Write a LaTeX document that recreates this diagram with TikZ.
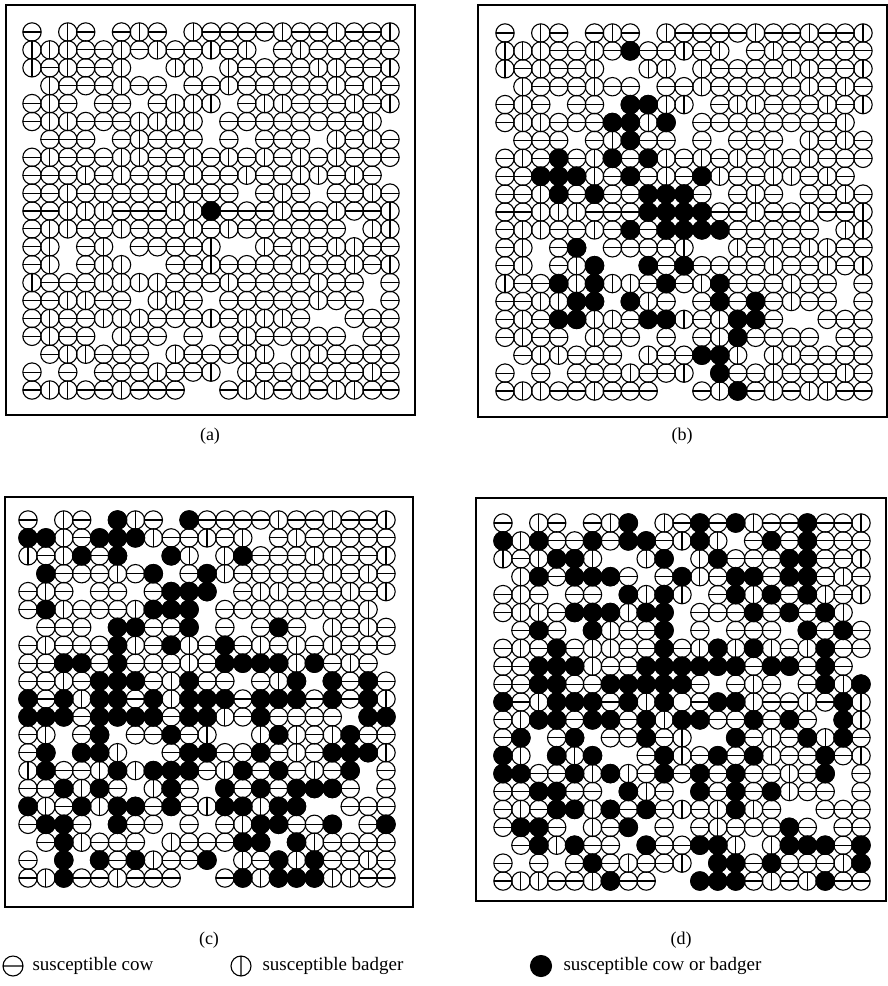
\documentclass[tikz,border=0pt]{standalone}
\usepackage{fontspec}
\setmainfont{Liberation Serif}
\usepackage{xstring}
\tikzset{
  every picture/.style={line width=1.1pt},
  cell/.style={draw=black, line width=1.1pt},
  sick/.style={draw=black, fill=black, line width=1.1pt},
  frame/.style={draw=black, line width=1.3pt},
  caption/.style={font=\fontsize{18}{20}\selectfont, inner sep=0pt},
  key/.style={font=\fontsize{19}{22}\selectfont, anchor=west, inner sep=0pt},
}
% h = cow, v = badger, e = empty site, o = plain circle
\newcommand\herd{hevhehvhevhhhhvhhvhhv,vvvhhvhvhhvhvehvhhhhh,vhvhhveevvevhhhhvvhhv,
  evhhhvhhehhvhhhhhvhvh,hvhehhehvvvehvvhhhvhv,hvvhhhvvvvehhhhhhhhve,ehhhehvhhhehehhhevhvh,
  hvhhhvvhhvhvhvhvhvhhh,hhhvhvhhhvhhvhhvvhvhe,hhvhhhhhvhhhehvhehhvh,hhvvvhhhvvohhhvhhvhhv,
  hvvhhvhhhvhvhhhhhhevv,hvehvehhhhveevhvhvvhh,hvehvveehhvhhhhvhhvhv,vhhhvvvvhhhvhhhhvhheh,
  hhvvhhevvhehhhhhvhheh,hvhhvvvhhhvhvvvheehhh,hvhhevhhehehvhhhhhehh,ehvvhhhevhhhvvevvhhhh,
  hehehhhvhhvevhhvhhhvh,hvvhhvhhheehvvhvhvvhh}
\newcommand\sickcells[3]{\foreach \r/\cols in {#3}{\foreach \c in \cols{
  \path[sick] ({#1+(\c-1)*17.9},{#2+(\r-1)*17.9}) circle[radius=9.2pt];}}}

\begin{document}
\begin{tikzpicture}[x=1pt, y=-1pt]
  \useasboundingbox (0,0) rectangle (888,986);
  % frames
  \draw[frame] (6,5) rectangle (415,415);
  \draw[frame] (478,5) rectangle (887,417);
  \draw[frame] (5,497) rectangle (413,907);
  \draw[frame] (476,498) rectangle (886,901);
  % the herd, same in all four panels
  \foreach \ox/\oy in {32/32, 505/33, 28/520, 503/523} {
    \foreach \row [count=\r] in \herd {
      \foreach \c in {1,...,21} {
        \StrChar{\row}{\c}[\kind]
        \pgfmathsetmacro\cx{\ox+(\c-1)*17.9}
        \pgfmathsetmacro\cy{\oy+(\r-1)*17.9}
        \if\kind e\else
          \draw[cell] (\cx,\cy) circle[radius=9.2pt];
          \if\kind h \draw[cell] (\cx,\cy) +(-9.2,0) -- +(9.2,0); \fi
          \if\kind v \draw[cell] (\cx,\cy) +(0,-9.2) -- +(0,9.2); \fi
        \fi
      }
    }
  }
  % infected sites, row/{columns}
  \sickcells{32}{32}{11/{11}}
  \sickcells{505}{33}{2/{8}, 5/{8,9}, 6/{7,8,10}, 7/{8}, 8/{4,7,9}, 9/{3,4,5,8,12},
    10/{4,6,9,10,11}, 11/{9,10,11,12}, 12/{8,10,11,12,13}, 13/{5}, 14/{6,9,11},
    15/{4,6,10,13}, 16/{5,6,8,13,15}, 17/{4,5,9,10,14,15}, 18/{14}, 19/{12,13},
    20/{13}, 21/{14}}
  \sickcells{28}{520}{1/{6,10}, 2/{1,2,5,6,7}, 3/{4,6,9,13}, 4/{2,8,11}, 5/{9,10,11},
    6/{2,8,9,10}, 7/{6,7,10,15}, 8/{6,9,12}, 9/{3,4,6,12,13,14,15,17},
    10/{5,6,7,10,16,18,20}, 11/{1,3,5,6,8,10,11,12,14,15,16,18,20},
    12/{1,2,3,5,6,7,8,10,11,14,20,21}, 13/{5,9,15,19}, 14/{2,4,5,10,11,14,18,19,20},
    15/{2,6,8,9,10,13,15,19}, 16/{3,5,9,12,14,16,17,18}, 17/{1,4,6,7,9,12,13,15,16},
    18/{2,3,6,14,15,18,21}, 19/{3,13,14,16}, 20/{3,5,7,11,15,17}, 21/{3,13,15,16,17}}
  \sickcells{503}{523}{1/{8,12,14,18}, 2/{1,3,6,8,9,12,16,18}, 3/{4,5,10,13,17,18},
    4/{3,5,6,7,11,14,15,17,18}, 5/{8,10,14,16,18}, 6/{5,6,7,9,10,15,17,19},
    7/{3,6,10,18,20}, 8/{4,10,13,15,19}, 9/{3,4,5,9,10,11,12,13,14,16,17,19},
    10/{3,4,7,8,9,10,11,19,21}, 11/{1,4,5,6,8,10,13,14,20},
    12/{3,4,6,7,9,11,12,15,17,20}, 13/{2,5,9,14,18,20}, 14/{1,4,6,10,13,15,19},
    15/{1,2,5,7,10,12,14,19}, 16/{3,4,8,12,14,16}, 17/{4,5,7,9,14}, 18/{2,3,8,17},
    19/{3,5,9,12,13,17,18,19,21}, 20/{6,13,14,16,21}, 21/{7,12,13,14,19}}
  % captions
  \node[caption] (cap-a) at (210,436) {(a)};
  \node[caption] (cap-b) at (682,436) {(b)};
  \node[caption] (cap-c) at (209,940) {(c)};
  \node[caption] (cap-d) at (681,940) {(d)};
  % key
  \draw[cell] (13,966) circle[radius=10pt] +(-10,0) -- +(10,0);
  \node[key] (key-cow) at (32,966) {susceptible cow};
  \draw[cell] (241,966) circle[radius=10pt] +(0,-10) -- +(0,10);
  \node[key] (key-badger) at (262,966) {susceptible badger};
  \path[sick] (541,966) circle[radius=10.5pt];
  \node[key] (key-sick) at (563,966) {susceptible cow or badger};
\end{tikzpicture}
\end{document}
